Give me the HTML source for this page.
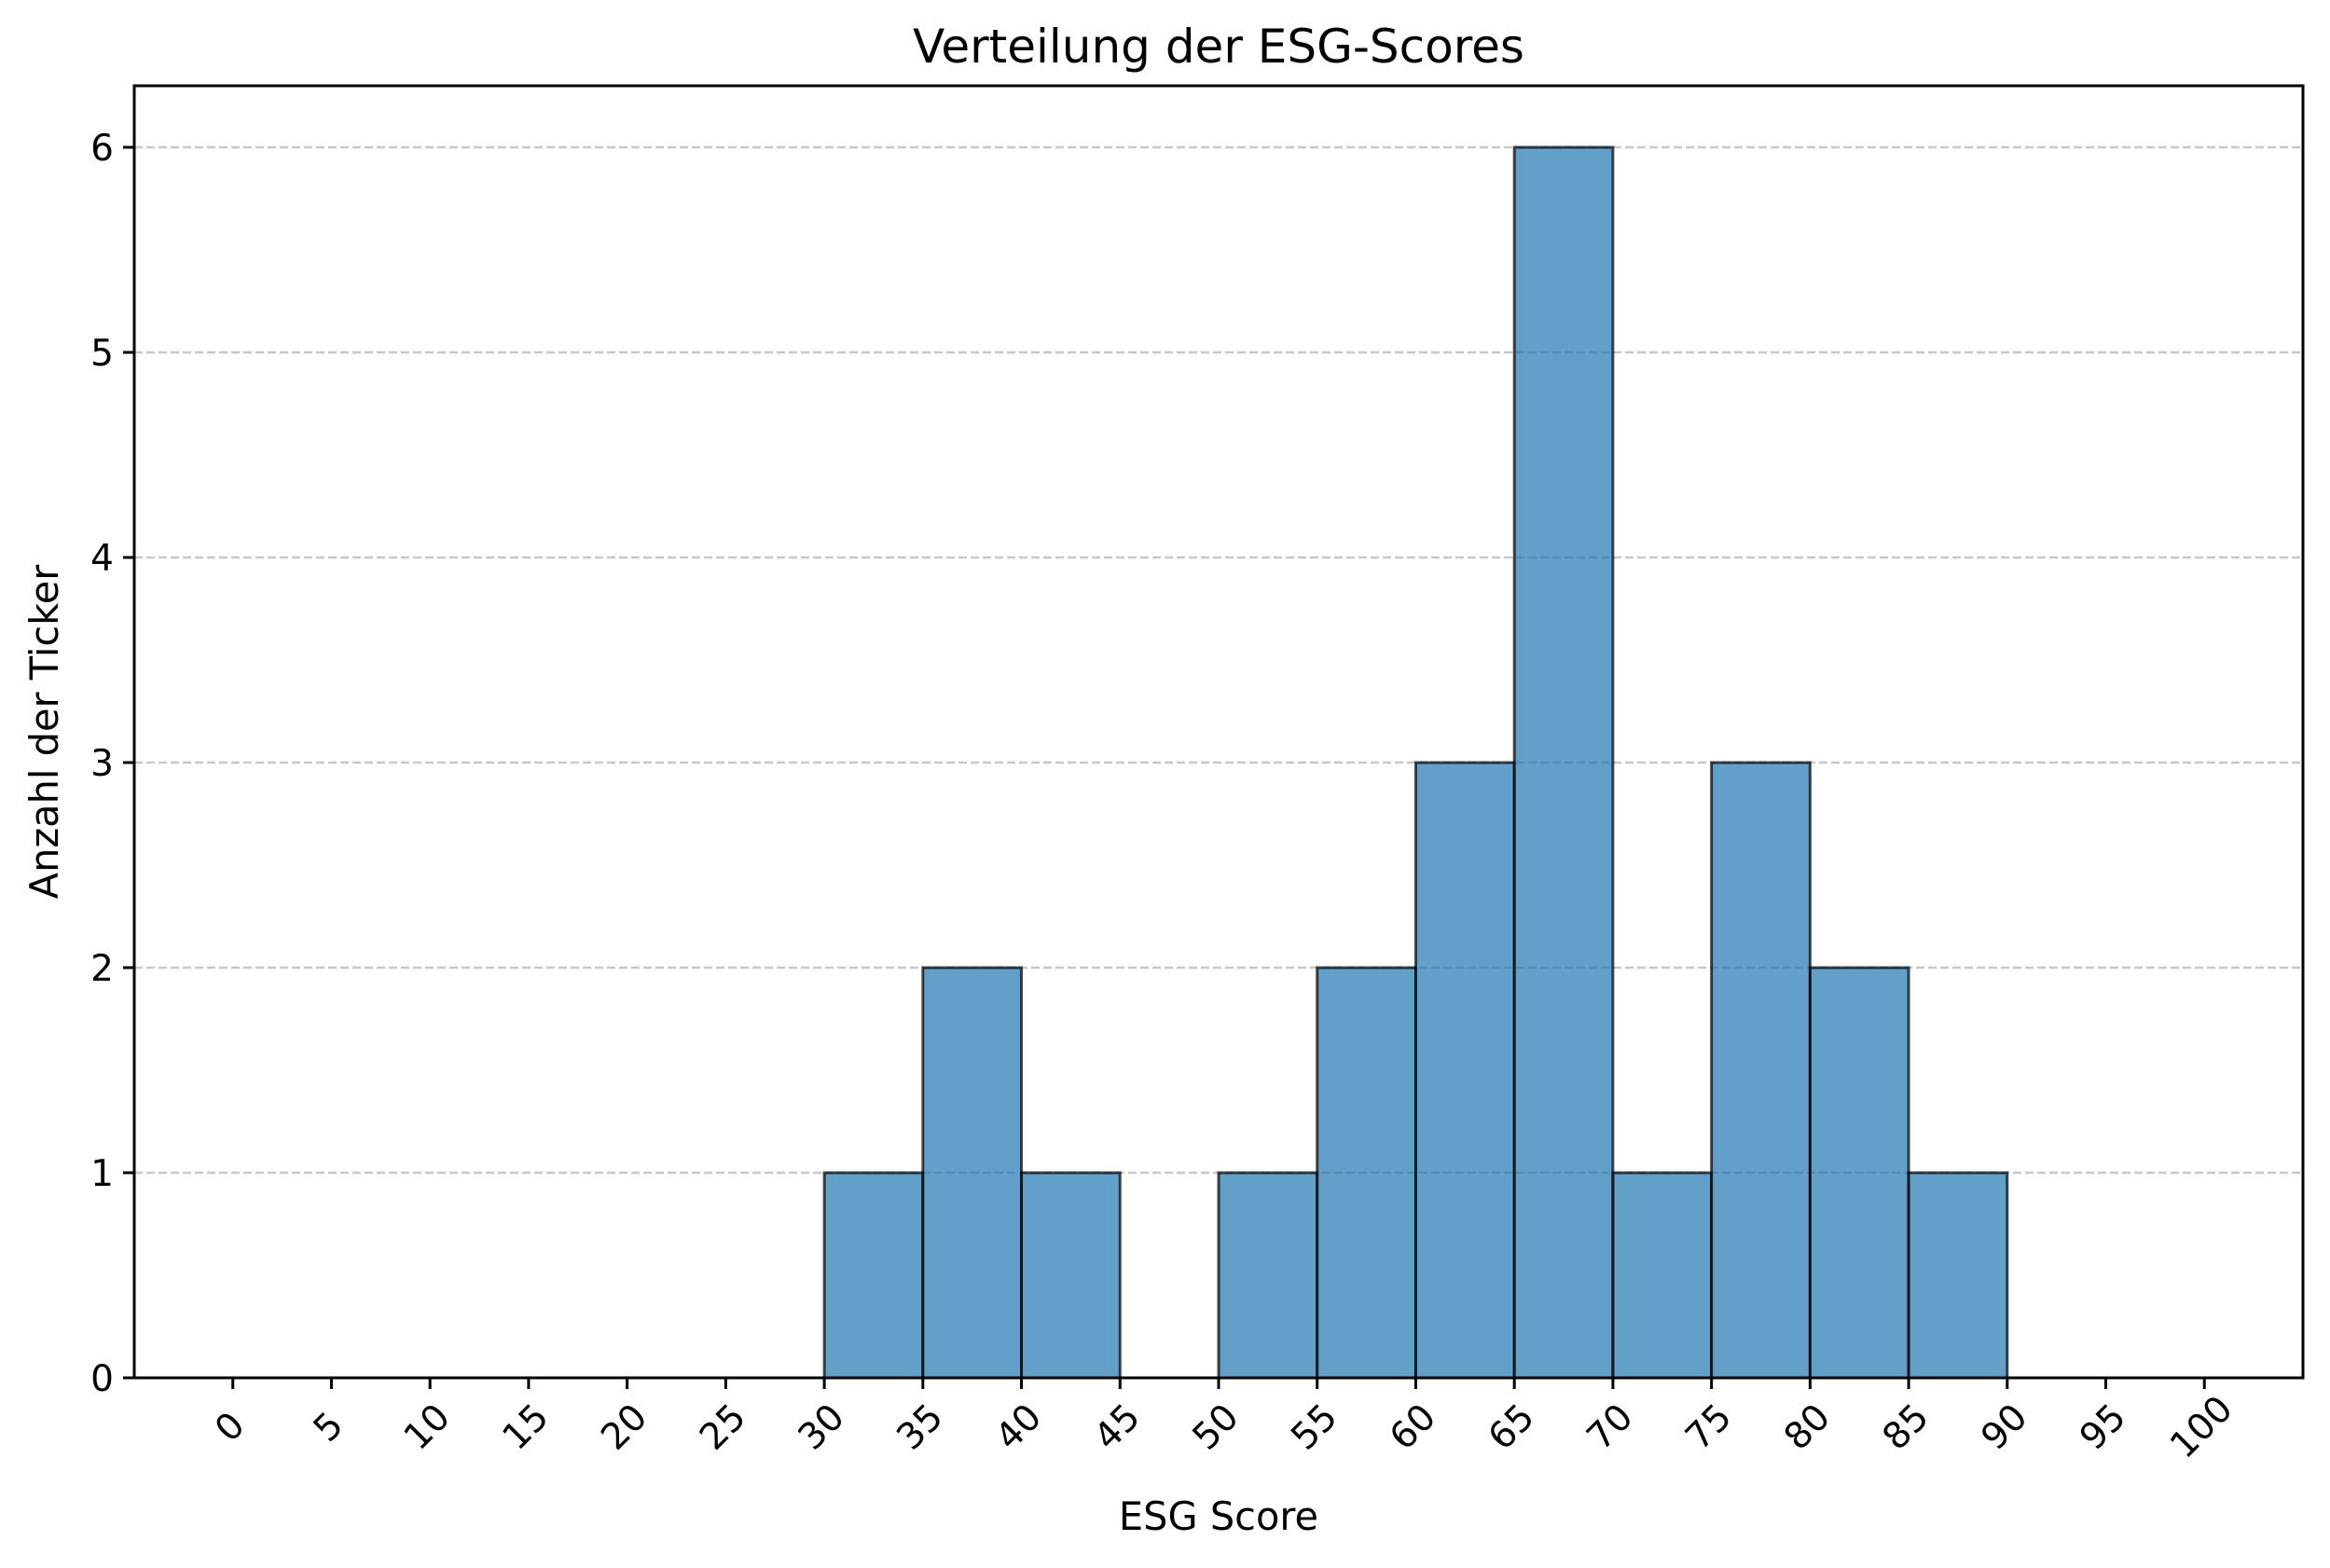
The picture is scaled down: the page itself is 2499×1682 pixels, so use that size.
<!DOCTYPE html>
<html><head><meta charset="utf-8"><style>body{margin:0;background:#fff}svg{display:block}text{font-family:"DejaVu Sans","Liberation Sans",sans-serif;fill:#000}</style></head>
<body>
<svg id="chart" width="2499" height="1682" viewBox="0 0 2499 1682" xmlns="http://www.w3.org/2000/svg">
<rect width="2499" height="1682" fill="#fff"/>
<g id="grid"></g><g id="bars"></g><g id="axes"></g>
<text x="1307" y="67" font-size="50" text-anchor="middle">Verteilung der ESG-Scores</text>
<text x="1307" y="1641" font-size="41.5" text-anchor="middle">ESG Score</text>
<text transform="translate(62,785) rotate(-90)" font-size="41.5" text-anchor="middle">Anzahl der Ticker</text>
</svg>
<script>
const binEdges=[0,5,10,15,20,25,30,35,40,45,50,55,60,65,70,75,80,85,90,95,100];
const counts=[0,0,0,0,0,0,1,2,1,0,1,2,3,6,1,3,2,1,0,0];
const yTicks=[0,1,2,3,4,5,6];
const xTicks=[0,5,10,15,20,25,30,35,40,45,50,55,60,65,70,75,80,85,90,95,100];
const L=144,R=2470,T=92,B=1478;
const xs=v=>L+(v+5)/110*(R-L);
const ys=v=>B-v/6.3*(B-T);
const NS="http://www.w3.org/2000/svg";
function mk(tag,at,parent){const e=document.createElementNS(NS,tag);for(const k in at)e.setAttribute(k,at[k]);parent.appendChild(e);return e;}
const grid=document.getElementById('grid'),bars=document.getElementById('bars'),axes=document.getElementById('axes');
yTicks.forEach(v=>{if(v===0)return;
const g=mk('line',{x1:L,x2:R,y1:ys(v),y2:ys(v),stroke:'#c8c8c8','stroke-width':2.5,'stroke-dasharray':'9,4'},grid);

});
counts.forEach((c,i)=>{const x0=xs(binEdges[i]),x1=xs(binEdges[i+1]);
const r=mk('rect',{x:x0,y:ys(c),width:x1-x0,height:B-ys(c),fill:'#1f77b4','fill-opacity':0.7,stroke:'#000','stroke-opacity':0.7,'stroke-width':3},bars);

});
const fr=mk('rect',{x:L,y:T,width:R-L,height:B-T,fill:'none',stroke:'#000','stroke-width':3},axes);


yTicks.forEach(v=>{mk('line',{x1:L-12,x2:L,y1:ys(v),y2:ys(v),stroke:'#000','stroke-width':3},axes);
const t=mk('text',{x:L-22,y:ys(v)+14,'font-size':39,'text-anchor':'end'},axes);t.textContent=v;

});
xTicks.forEach(v=>{const x=xs(v);mk('line',{x1:x,x2:x,y1:B,y2:B+12,stroke:'#000','stroke-width':3},axes);
const t=mk('text',{transform:`translate(${x+6},${B+62}) rotate(-45)`,'font-size':39,'text-anchor':'middle'},axes);t.textContent=v;

});
</script>
</body></html>
